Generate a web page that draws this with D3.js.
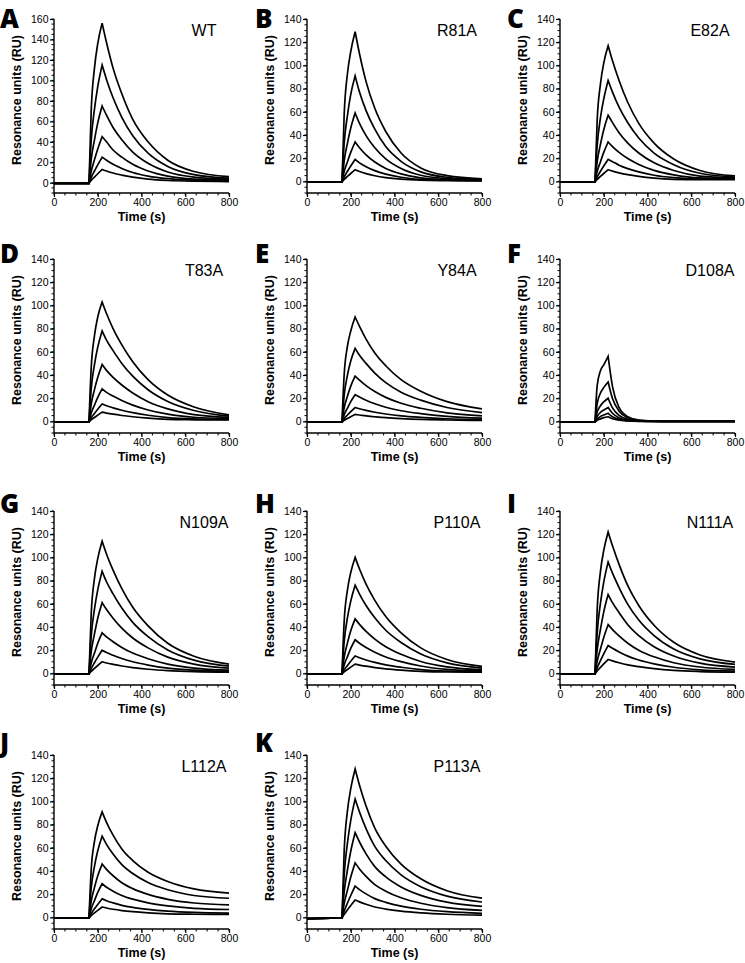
<!DOCTYPE html>
<html><head><meta charset="utf-8">
<script src="https://cdn.jsdelivr.net/npm/d3@7"></script>
<style>
body{margin:0;background:#fff;}
svg{display:block;}
</style></head>
<body>
<svg id="chart" width="745" height="963"></svg>
<script>
// Shared time points (s)
const times = [0,160,170,185,200,220,240,270,310,360,430,520,640,800];
const panelLetters = ["A","B","C","D","E","F","G","H","I","J","K"];
const panelNames = ["WT","R81A","E82A","T83A","Y84A","D108A","N109A","P110A","N111A","L112A","P113A"];
const yMaxes = [160,140,140,140,140,140,140,140,140,140,140];
const xTicks = [0,200,400,600,800];

// Response (RU) for each injected concentration, highest first
const seriesA = [
 [-0.5,-0.5,70,112,136,156,137,112,87,62,40,22,11,6],
 [-0.5,-0.5,41,72,94,115,101,83,64,46,29,16,8,4.5],
 [-0.5,-0.5,22.5,42,58.5,75,66,54,42,30,19,10.5,5.5,3.5],
 [-0.5,-0.5,11,22.5,33,45,40,32,25,18,11.5,6.5,3.5,2.5],
 [-0.5,-0.5,5,11.5,17.5,25,22,18,14,10,6.5,4,2.5,2],
 [-0.5,-0.5,2.2,5.6,8.8,13,11.5,9.5,7.5,5.5,3.5,2.2,1.5,1.2]];
const seriesB = [
 [-0.5,-0.5,58,93,112,129,110,86,63,43,24.5,11.6,5,2.3],
 [-0.5,-0.5,33,57,75,91,77,61,45,30,17.3,8.2,3.6,1.8],
 [-0.5,-0.5,17.7,33,46,59,50,39.5,29,19.5,11.2,5.3,2.5,1.4],
 [-0.5,-0.5,8.5,17,25,34,29,22.8,16.7,11.2,6.5,3.1,1.6,1],
 [-0.5,-0.5,3.8,8.7,13.3,19,16,12.7,9.3,6.3,3.6,1.8,1,0.7],
 [-0.5,-0.5,1.7,4.3,6.8,10,8.5,6.7,4.9,3.3,1.9,1,0.6,0.4]];
const seriesC = [
 [-0.5,-0.5,53,84,102,117,104,87,68,50,33,19.3,9.4,4.7],
 [-0.5,-0.5,31,55,71,87,77,64,50.5,37.4,24.4,14.4,7,3.8],
 [-0.5,-0.5,17,32,44.5,57,50.7,42,33,24.5,16,9.4,4.6,3],
 [-0.5,-0.5,8.5,17,25,34,30,25,19.7,14.6,9.5,5.6,3,2.5],
 [-0.5,-0.5,3.8,8.7,13.3,19,17,14,11,8.2,5.3,3.2,2,2],
 [-0.5,-0.5,1.7,4.3,6.8,10,8.9,7.4,5.8,4.3,2.8,1.8,1.5,1.5]];
const seriesD = [
 [-0.5,-0.5,46,74,90,103,93,80,66,51.5,36,22.7,12.4,5.7],
 [-0.5,-0.5,28,49,64,78,70,61,50,39,27.3,17.2,9.4,4.5],
 [-0.5,-0.5,14.7,27.4,38,49,44,38,31.4,24.5,17,10.8,5.9,3.5],
 [-0.5,-0.5,7,14,20.7,28,25,21.8,18,14,9.8,6.2,3.6,2.5],
 [-0.5,-0.5,3,6.9,10.5,15,13.5,11.7,9.6,7.5,5.3,3.3,2.2,1.8],
 [-0.5,-0.5,1.4,3.4,5.4,8,7.2,6.2,5.1,4,2.8,1.8,1.4,1.2]];
const seriesE = [
 [-0.5,-0.5,40.5,65,78,90,82,71,59,48,36,26,17,10.8],
 [-0.5,-0.5,22.7,40,52,63,57,50,41.6,33.4,25.2,18.3,12,7.6],
 [-0.5,-0.5,11.7,21.8,30.4,39,35.5,30.8,25.7,20.7,15.6,11.3,7.4,4.7],
 [-0.5,-0.5,5.8,11.5,17,23,21,18.2,15.2,12.2,9.2,6.7,4.4,2.8],
 [-0.5,-0.5,2.4,5.5,8.4,12,10.9,9.5,7.9,6.4,4.8,3.5,2.3,1.5],
 [-0.5,-0.5,1,2.6,4.1,6,5.5,4.7,4,3.2,2.4,1.7,1.2,0.8]];
const seriesF = [
 [-0.5,-0.5,30.8,43.7,48.7,56,30,12,4,1.2,0.3,0,0,0],
 [-0.5,-0.5,15.3,24.5,29.2,34,19.7,8.8,3.1,0.9,0.2,0,0,0],
 [-0.5,-0.5,8,13.5,16.8,20,11.6,5.2,1.8,0.5,0.1,0,0,0],
 [-0.5,-0.5,4.2,7.8,9.8,12,7,3.1,1.1,0.3,0.1,0,0,0],
 [-0.5,-0.5,2.1,4.2,5.6,7,4,1.8,0.6,0.2,0,0,0,0],
 [-0.5,-0.5,1,2.2,3.2,4,2.3,1,0.4,0.1,0,0,0,0]];
const seriesG = [
 [-0.5,-0.5,51,82,99,114,103,89,73,57,41,26,14.8,8],
 [-0.5,-0.5,31.7,55.4,72,88,79,68.6,56.3,44,31.7,20.2,11.4,6.2],
 [-0.5,-0.5,18.3,34,47.6,61,55,47.6,39,30.5,22,14,8,4.5],
 [-0.5,-0.5,8.8,17.5,26,35,31.5,27.3,22.4,17.5,12.6,8,4.6,2.8],
 [-0.5,-0.5,4,9.2,14,20,18,15.6,12.8,10,7.2,4.6,2.8,1.8],
 [-0.5,-0.5,1.7,4.3,6.8,10,9,7.8,6.4,5,3.6,2.4,1.5,1]];
const seriesH = [
 [-0.5,-0.5,45,72,87,100,90,77,63,49,35,22,12,6],
 [-0.5,-0.5,27.4,48,62.3,76,68.4,58.5,47.9,37.2,26.6,16.7,9.1,4.6],
 [-0.5,-0.5,14,26.3,36.7,47,42.3,36.2,29.6,23,16.5,10.3,5.6,3],
 [-0.5,-0.5,7.3,14.5,21.5,29,26,22.3,18.3,14.2,10.2,6.4,3.5,2.2],
 [-0.5,-0.5,3,6.9,10.5,15,13.5,11.6,9.5,7.4,5.3,3.3,2,1.5],
 [-0.5,-0.5,1.4,3.4,5.4,8,7.2,6.2,5,3.9,2.8,1.8,1.2,1]];
const seriesI = [
 [-0.5,-0.5,55,88,106,122,110,94,75.6,58.6,41.5,26.8,15.9,9.8],
 [-0.5,-0.5,34.6,60.5,78.7,96,86.4,74,59.5,46,32.6,21,12.5,7.7],
 [-0.5,-0.5,20.4,38,53,68,61,52.4,42,32.6,23,15,8.8,5.4],
 [-0.5,-0.5,10.5,21,31,42,37.8,32.3,26,20,14.3,9.2,5.5,3.4],
 [-0.5,-0.5,4.8,11,16.8,24,21.6,18.5,14.9,11.5,8.2,5.3,3.1,2],
 [-0.5,-0.5,2,5.2,8.2,12,10.8,9.2,7.4,5.8,4.1,2.6,1.6,1]];
const seriesJ = [
 [-0.5,-0.5,41,65.5,79,91,82,71,59,49,39,31,24.6,21],
 [-0.5,-0.5,25.2,44,57.4,70,63,54.6,45.5,37.8,30,23.8,18.9,16.5],
 [-0.5,-0.5,13.8,25.8,35.9,46,41.4,35.9,29.9,24.8,19.8,15.6,12.4,10.8],
 [-0.5,-0.5,7.3,14.5,21.5,29,26,22.6,18.9,15.7,12.5,9.9,7.8,6.8],
 [-0.5,-0.5,3.2,7.4,11.2,16,14.4,12.5,10.4,8.6,6.9,5.4,4.3,3.7],
 [-0.5,-0.5,1.5,3.9,6.1,9,8.1,7,5.9,4.9,3.9,3.1,2.7,2.5]];
const seriesK = [
 [-1,-0.5,57.6,92,111,128,114,96,77,61.4,46,33.3,23,16.6],
 [-1,-0.5,36.7,64.3,83.6,102,90.8,76.5,61.2,49,36.7,26.5,18.4,13.3],
 [-1,-0.5,21.9,40.9,57,73,65,54.8,43.8,35,26.3,19,13.1,9.5],
 [-1,-0.5,11.8,23.5,34.8,47,41.8,35.3,28.2,22.6,16.9,12.2,8.5,6.1],
 [-1,-0.5,5.4,12.4,18.9,27,24,20.3,16.2,13,9.7,7,4.9,3.5],
 [-1,-0.5,2.6,6.5,10.2,15,13.4,11.3,9,7.2,5.4,3.9,2.7,2]];
const allSeries = [seriesA,seriesB,seriesC,seriesD,seriesE,seriesF,seriesG,seriesH,seriesI,seriesJ,seriesK];

// Layout
const colX = [54, 307, 560];
const rowTop = [19, 259, 511, 755];
const letterX = [0, 255, 507];
const letterBase = [28, 263, 513, 752];
const plotW = 175, plotH = 174;
const PEAK = 5;

const svg = d3.select("#chart");
const font = "'Liberation Sans', Arial, sans-serif";

allSeries.forEach((series, i) => {
  const row = Math.floor(i / 3), col = i % 3;
  const g = svg.append("g").attr("transform", `translate(${colX[col]},${rowTop[row]})`);
  const x = d3.scaleLinear().domain([0, 800]).range([0, plotW]);
  const y = d3.scaleLinear().domain([-10, yMaxes[i]]).range([plotH, 0]);

  // minor ticks
  const yMinor = d3.range(-10, yMaxes[i] + 0.1, 5);
  const xMinor = d3.range(0, 801, 50);
  g.append("g").selectAll("line").data(yMinor).join("line")
    .attr("x1", -2.5).attr("x2", 0).attr("y1", d => y(d)).attr("y2", d => y(d))
    .attr("stroke", "#000").attr("stroke-width", 1);
  g.append("g").selectAll("line").data(xMinor).join("line")
    .attr("y1", plotH).attr("y2", plotH + 2.5).attr("x1", d => x(d)).attr("x2", d => x(d))
    .attr("stroke", "#000").attr("stroke-width", 1);

  const yAxis = d3.axisLeft(y).tickValues(d3.range(0, yMaxes[i] + 1, 20)).tickSize(4).tickPadding(1.5);
  const yg = g.append("g").call(yAxis);
  const xAxis = d3.axisBottom(x).tickValues(xTicks).tickSize(4).tickPadding(2);
  const xg = g.append("g").attr("transform", `translate(0,${plotH})`).call(xAxis);
  [yg, xg].forEach(a => {
    a.select(".domain").attr("stroke-width", 1.4).attr("stroke", "#000");
    a.selectAll(".tick line").attr("stroke-width", 1.2).attr("stroke", "#000");
    a.selectAll(".tick text").attr("font-size", 10.5).attr("fill", "#000").attr("font-family", font);
  });
  yg.select(".domain").attr("d", `M0,0V${plotH}`);
  xg.select(".domain").attr("d", `M0,0H${plotW}`);

  // curves: baseline, association, dissociation segments
  const lin = d3.line().x(d => x(d[0])).y(d => y(d[1]));
  const mono = d3.line().x(d => x(d[0])).y(d => y(d[1])).curve(d3.curveMonotoneX);
  series.forEach(vals => {
    const pts = times.map((t, k) => [t, vals[k]]);
    const p = lin(pts.slice(0, 2)) + mono(pts.slice(1, PEAK + 1)).replace(/^M/, "L") + mono(pts.slice(PEAK)).replace(/^M/, "L");
    g.append("path").attr("d", p).attr("fill", "none").attr("stroke", "#000")
      .attr("stroke-width", 1.7).attr("stroke-linejoin", "miter");
  });

  // panel name
  g.append("text").attr("x", 150).attr("y", 17).attr("text-anchor", "middle")
    .attr("font-family", font).attr("font-size", 16).text(panelNames[i]);

  // axis titles
  g.append("text").attr("transform", `translate(-33,${plotH / 2 - 6}) rotate(-90)`)
    .attr("text-anchor", "middle").attr("font-family", font).attr("font-weight", "bold")
    .attr("font-size", 12.5).text("Resonance units (RU)");
  g.append("text").attr("x", plotW / 2).attr("y", plotH + 28).attr("text-anchor", "middle")
    .attr("font-family", font).attr("font-weight", "bold").attr("font-size", 12.5).text("Time (s)");

  // panel letter
  svg.append("text").attr("x", letterX[col]).attr("y", letterBase[row])
    .attr("font-family", "'Open Sans', 'Noto Sans', sans-serif").attr("font-weight", 800)
    .attr("font-size", 26).text(panelLetters[i]);
});
</script>
</body></html>
